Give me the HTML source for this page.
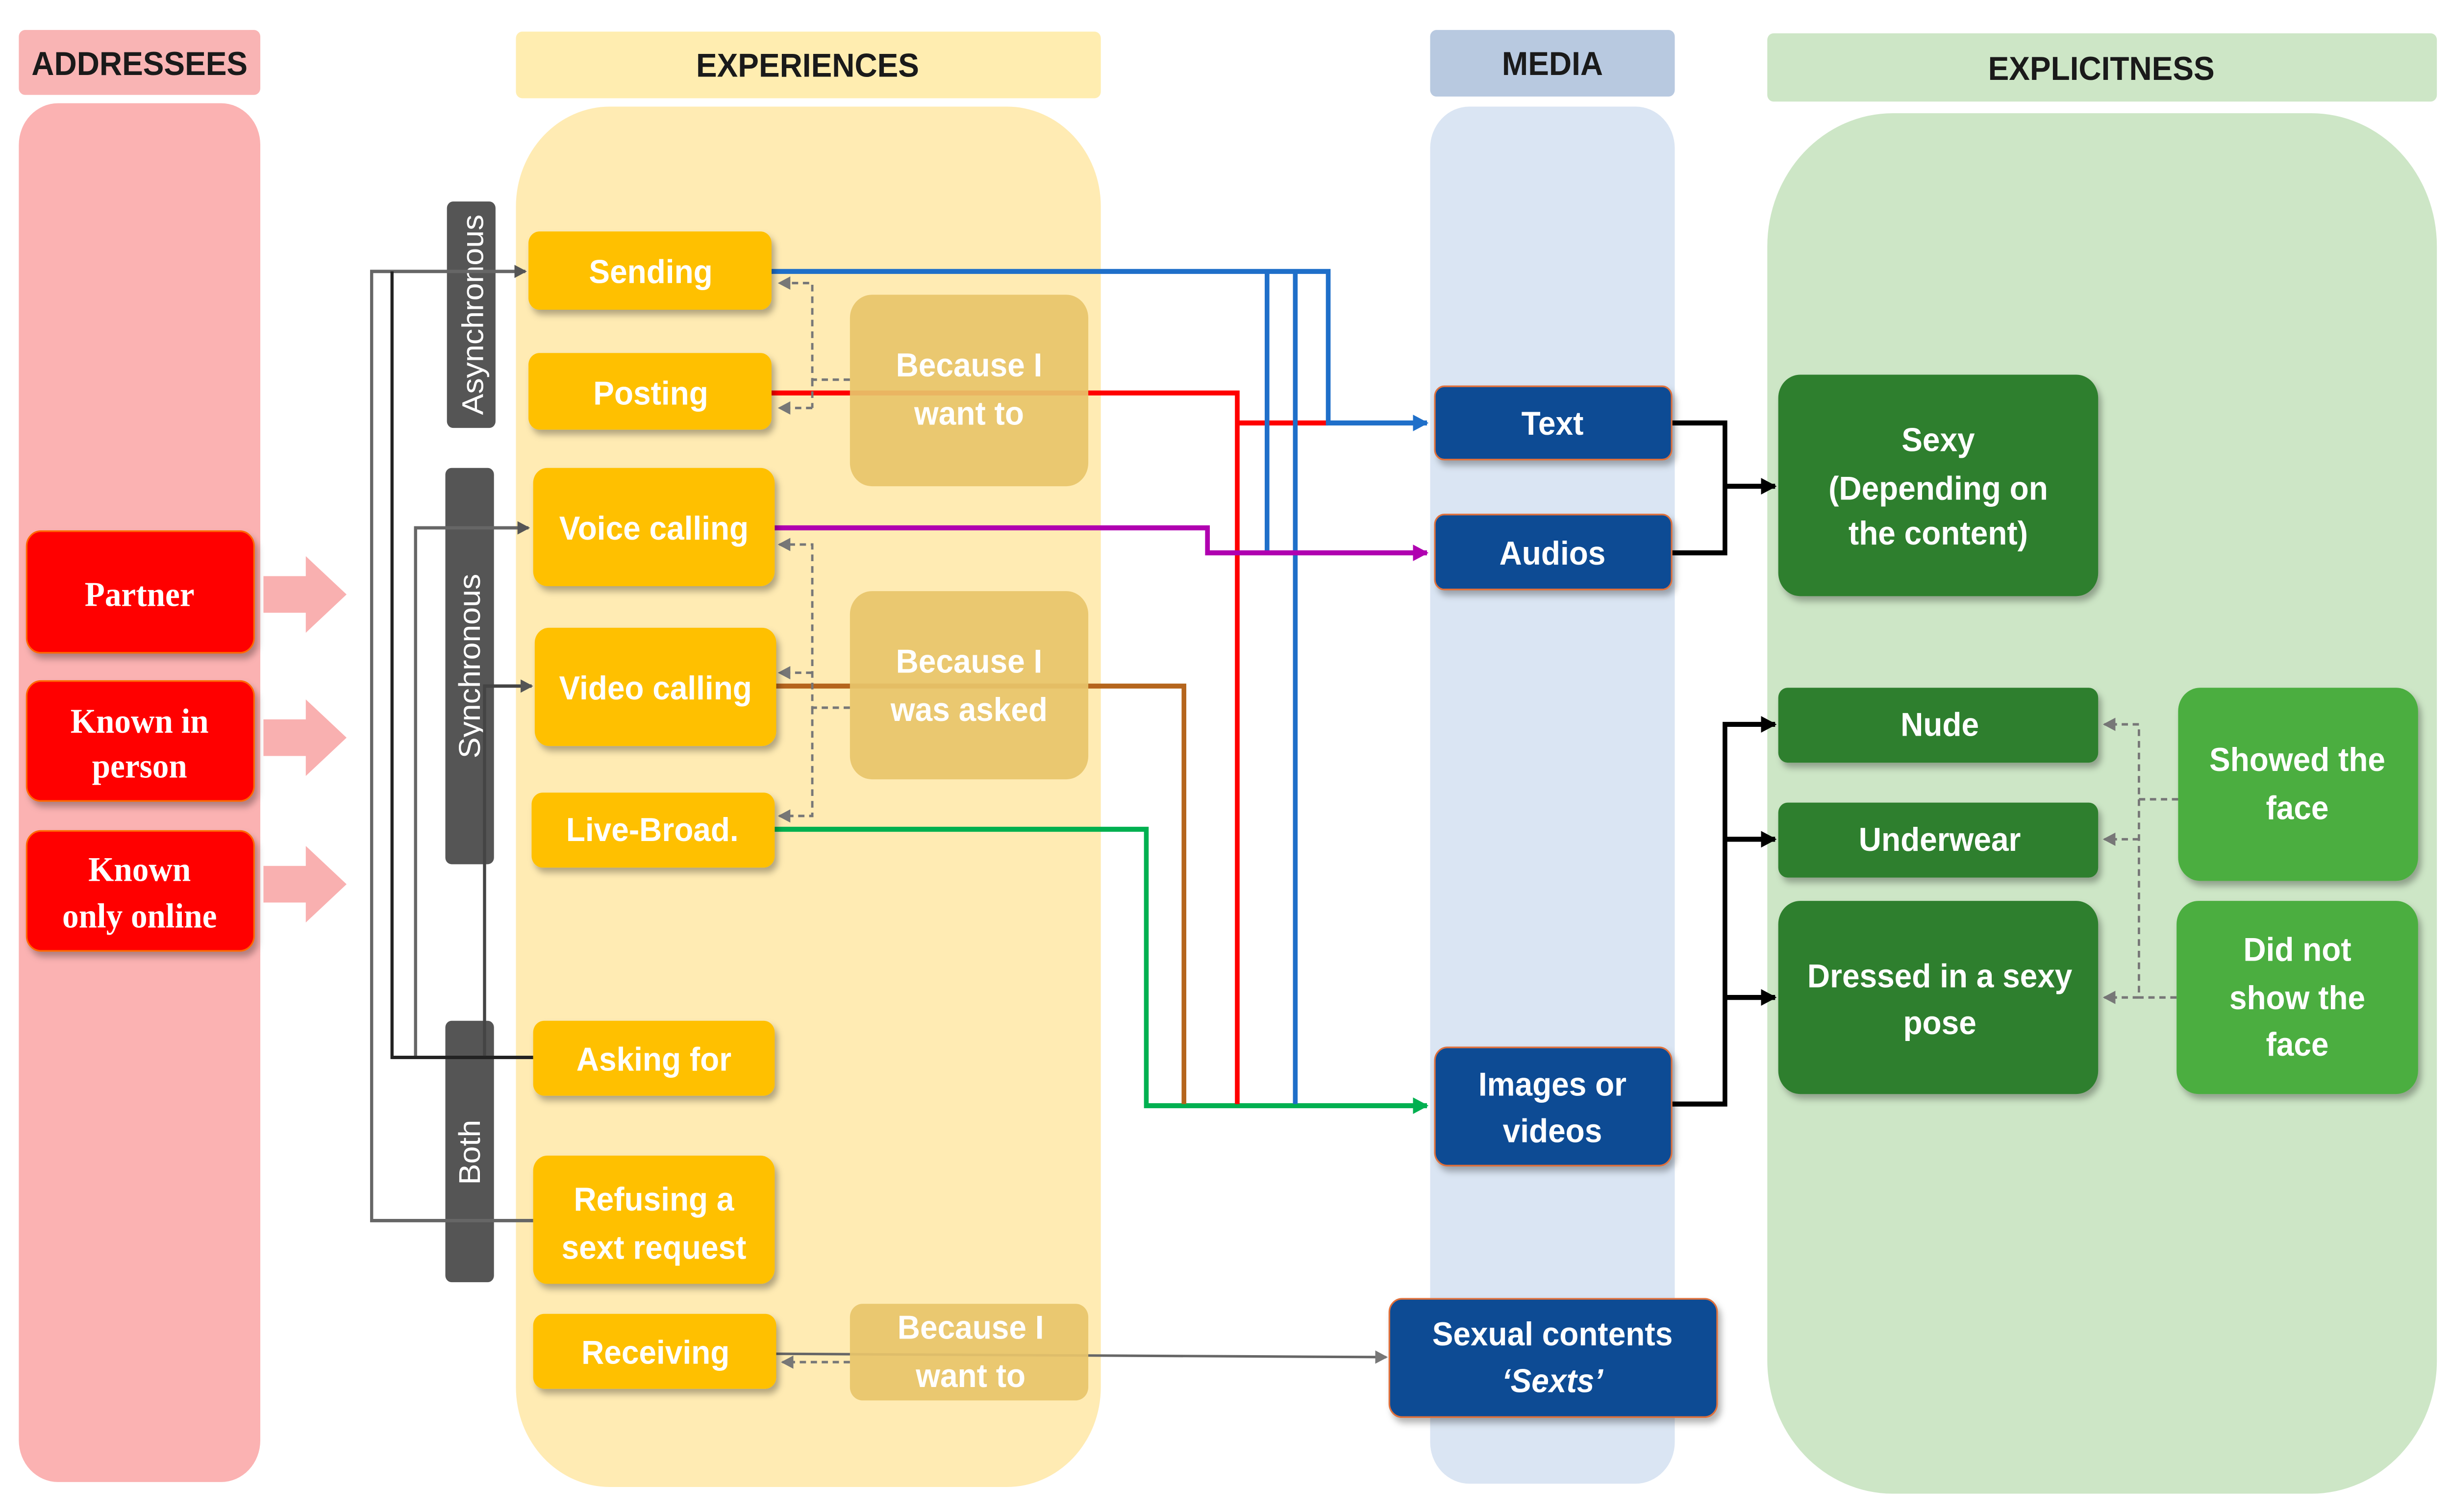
<!DOCTYPE html>
<html><head><meta charset="utf-8"><style>
html,body{margin:0;padding:0;background:#fff;width:100%;height:100%;overflow:hidden;}
svg{display:block;width:100vw;height:100vh;}
text{font-family:"Liberation Sans",Arial,sans-serif;font-weight:bold;}
.w{fill:#fff;font-size:20px;text-anchor:middle;}
.h{fill:#1a1a1a;font-size:20px;text-anchor:middle;}
.s{fill:#fff;font-family:"Liberation Serif",serif;font-size:21px;text-anchor:middle;}
</style></head><body>
<svg viewBox="0 0 1563 908" preserveAspectRatio="none" xmlns="http://www.w3.org/2000/svg">
<defs>
<marker id="a" markerWidth="8" markerHeight="8" refX="7" refY="4" orient="auto" markerUnits="userSpaceOnUse"><path d="M0,0 L8,4 L0,8 z" fill="#555"/></marker>
<marker id="ab" markerWidth="10" markerHeight="10" refX="9" refY="5" orient="auto" markerUnits="userSpaceOnUse"><path d="M0,0 L10,5 L0,10 z" fill="#1F6FC9"/></marker>
<marker id="ap" markerWidth="10" markerHeight="10" refX="9" refY="5" orient="auto" markerUnits="userSpaceOnUse"><path d="M0,0 L10,5 L0,10 z" fill="#B000B0"/></marker>
<marker id="ag" markerWidth="10" markerHeight="10" refX="9" refY="5" orient="auto" markerUnits="userSpaceOnUse"><path d="M0,0 L10,5 L0,10 z" fill="#00B050"/></marker>
<marker id="ak" markerWidth="10" markerHeight="10" refX="9" refY="5" orient="auto" markerUnits="userSpaceOnUse"><path d="M0,0 L10,5 L0,10 z" fill="#000"/></marker>
<marker id="ay" markerWidth="8" markerHeight="8" refX="7" refY="4" orient="auto" markerUnits="userSpaceOnUse"><path d="M0,0 L8,4 L0,8 z" fill="#777"/></marker>
<filter id="sh" x="-10%" y="-10%" width="130%" height="130%"><feDropShadow dx="2" dy="3" stdDeviation="2" flood-color="#000" flood-opacity="0.3"/></filter>
</defs>
<rect x="12" y="18" width="154" height="39" rx="4" fill="#F9B4B4"/>
<rect x="12" y="62" width="154" height="828" rx="25" fill="#FBB2B2"/>
<rect x="329" y="19" width="373" height="40" rx="4" fill="#FFEDB0"/>
<rect x="329" y="64" width="373" height="829" rx="60" fill="#FFEBB3"/>
<rect x="912" y="18" width="156" height="40" rx="4" fill="#B8C9E0"/>
<rect x="912" y="64" width="156" height="827" rx="25" fill="#DAE5F3"/>
<rect x="1127" y="20" width="427" height="41" rx="4" fill="#CDE6C6"/>
<rect x="1127" y="68" width="427" height="829" rx="80" fill="#CDE6C6"/>
<text class="h" x="89" y="45">ADDRESSEES</text>
<text class="h" x="515" y="46">EXPERIENCES</text>
<text class="h" x="990" y="45">MEDIA</text>
<text class="h" x="1340" y="48">EXPLICITNESS</text>
<g filter="url(#sh)">
<rect x="17" y="319" width="145" height="73" rx="9" fill="#FF0000" stroke="#f60"/>
<rect x="17" y="409" width="145" height="72" rx="9" fill="#FF0000" stroke="#f60"/>
<rect x="17" y="499" width="145" height="72" rx="9" fill="#FF0000" stroke="#f60"/>
</g>
<text class="s" x="89" y="364">Partner</text>
<text class="s" x="89" y="440">Known in</text><text class="s" x="89" y="467">person</text>
<text class="s" x="89" y="529">Known</text><text class="s" x="89" y="557">only online</text>
<g fill="#F9B0B0">
<path d="M168,346 h27 v-12 l26,23 l-26,23 v-12 h-27z"/>
<path d="M168,432 h27 v-12 l26,23 l-26,23 v-12 h-27z"/>
<path d="M168,520 h27 v-12 l26,23 l-26,23 v-12 h-27z"/>
</g>
<rect x="285" y="121" width="31" height="136" rx="4" fill="#555"/>
<rect x="284" y="281" width="31" height="238" rx="4" fill="#555"/>
<rect x="284" y="613" width="31" height="157" rx="4" fill="#555"/>
<text x="308" y="189" fill="#fff" font-size="19" text-anchor="middle" transform="rotate(-90 308 189)" style="font-weight:normal">Asynchronous</text>
<text x="306" y="400" fill="#fff" font-size="19" text-anchor="middle" transform="rotate(-90 306 400)" style="font-weight:normal">Synchronous</text>
<text x="306" y="692" fill="#fff" font-size="19" text-anchor="middle" transform="rotate(-90 306 692)" style="font-weight:normal">Both</text>
<g fill="none" stroke-width="2">
<path d="M340,733 H237 V163 H335" stroke="#666" marker-end="url(#a)"/>
<path d="M340,635 H250 V163" stroke="#222"/>
<path d="M280,635 H265 V317 H337" stroke="#666" marker-end="url(#a)"/>
<path d="M309,635 V412 H339" stroke="#444" marker-end="url(#a)"/>
<path d="M250,635 H340" stroke="#222"/>
</g>
<g fill="none" stroke-width="3">
<path d="M494,498 H731 V664 H910" stroke="#00B050" marker-end="url(#ag)"/>
<path d="M495,412 H755 V663" stroke="#B5651D"/>
<path d="M492,236 H789 V663" stroke="#FF0000"/>
<path d="M789,254 H847" stroke="#FF0000"/>
<path d="M492,163 H847 V254 H910" stroke="#1F6FC9" marker-end="url(#ab)"/>
<path d="M808,163 V332" stroke="#1F6FC9"/>
<path d="M826,163 V663" stroke="#1F6FC9"/>
<path d="M494,317 H770 V332 H910" stroke="#B000B0" marker-end="url(#ap)"/>
<path d="M1066,254 H1100 V332 H1066" stroke="#000"/>
<path d="M1100,292 H1132" stroke="#000" marker-end="url(#ak)"/>
<path d="M1066,663 H1100 V435 H1132" stroke="#000" marker-end="url(#ak)"/>
<path d="M1100,504 H1132" stroke="#000" marker-end="url(#ak)"/>
<path d="M1100,599 H1132" stroke="#000" marker-end="url(#ak)"/>
</g>
<path d="M495,813 L884,815" stroke="#666" stroke-width="1.5" fill="none" marker-end="url(#ay)"/>
<g fill="none" stroke="#777" stroke-width="1.5" stroke-dasharray="4,3">
<path d="M542,228 H518 V170 H497" marker-end="url(#ay)"/>
<path d="M518,245 H497" marker-end="url(#ay)"/>
<path d="M518,228 V245"/>
<path d="M542,425 H518 V327 H497" marker-end="url(#ay)"/>
<path d="M518,404 H497" marker-end="url(#ay)"/>
<path d="M518,425 V490 H497" marker-end="url(#ay)"/>
<path d="M542,818 H499" marker-end="url(#ay)"/>
<path d="M1389,480 H1364 V435 H1342" marker-end="url(#ay)"/>
<path d="M1364,480 V599 H1342" marker-end="url(#ay)"/>
<path d="M1388,599 H1364"/>
<path d="M1364,504 H1342" marker-end="url(#ay)"/>
</g>
<g filter="url(#sh)" fill="#FFC000">
<rect x="337" y="139" width="155" height="47" rx="7"/>
<rect x="337" y="212" width="155" height="46" rx="7"/>
<rect x="340" y="281" width="154" height="71" rx="9"/>
<rect x="341" y="377" width="154" height="71" rx="9"/>
<rect x="339" y="476" width="155" height="45" rx="7"/>
<rect x="340" y="613" width="154" height="45" rx="7"/>
<rect x="340" y="694" width="154" height="77" rx="9"/>
<rect x="340" y="789" width="155" height="45" rx="7"/>
</g>
<g fill="#E8C46A" opacity="0.92">
<rect x="542" y="177" width="152" height="115" rx="14"/>
<rect x="542" y="355" width="152" height="113" rx="14"/>
<rect x="542" y="783" width="152" height="58" rx="8"/>
</g>
<text class="w" x="415" y="170">Sending</text>
<text class="w" x="415" y="243">Posting</text>
<text class="w" x="417" y="324">Voice calling</text>
<text class="w" x="418" y="420">Video calling</text>
<text class="w" x="416" y="505">Live-Broad.</text>
<text class="w" x="417" y="643">Asking for</text>
<text class="w" x="417" y="727">Refusing a</text><text class="w" x="417" y="756">sext request</text>
<text class="w" x="418" y="819">Receiving</text>
<text class="w" x="618" y="226">Because I</text><text class="w" x="618" y="255">want to</text>
<text class="w" x="618" y="404">Because I</text><text class="w" x="618" y="433">was asked</text>
<text class="w" x="619" y="804">Because I</text><text class="w" x="619" y="833">want to</text>
<g filter="url(#sh)" fill="#0B4C94" stroke="#E0703A" stroke-width="1">
<rect x="915" y="232" width="151" height="44" rx="6"/>
<rect x="915" y="309" width="151" height="45" rx="6"/>
<rect x="915" y="629" width="151" height="71" rx="8"/>
<rect x="886" y="780" width="209" height="71" rx="8"/>
</g>
<text class="w" x="990" y="261">Text</text>
<text class="w" x="990" y="339">Audios</text>
<text class="w" x="990" y="658">Images or</text><text class="w" x="990" y="686">videos</text>
<text class="w" x="990" y="808">Sexual contents</text>
<text class="w" x="990" y="836" font-style="italic">‘Sexts’</text>
<g filter="url(#sh)">
<rect x="1134" y="225" width="204" height="133" rx="14" fill="#2F7F2D"/>
<rect x="1134" y="413" width="204" height="45" rx="6" fill="#2F7F2D"/>
<rect x="1134" y="482" width="204" height="45" rx="6" fill="#2F7F2D"/>
<rect x="1134" y="541" width="204" height="116" rx="14" fill="#2F7F2D"/>
<rect x="1389" y="413" width="153" height="116" rx="14" fill="#4CAE3F"/>
<rect x="1388" y="541" width="154" height="116" rx="14" fill="#4CAE3F"/>
</g>
<text class="w" x="1236" y="271">Sexy</text>
<text class="w" x="1236" y="300">(Depending on</text>
<text class="w" x="1236" y="327">the content)</text>
<text class="w" x="1237" y="442">Nude</text>
<text class="w" x="1237" y="511">Underwear</text>
<text class="w" x="1237" y="593">Dressed in a sexy</text><text class="w" x="1237" y="621">pose</text>
<text class="w" x="1465" y="463">Showed the</text><text class="w" x="1465" y="492">face</text>
<text class="w" x="1465" y="577">Did not</text><text class="w" x="1465" y="606">show the</text><text class="w" x="1465" y="634">face</text>
</svg>
</body></html>
